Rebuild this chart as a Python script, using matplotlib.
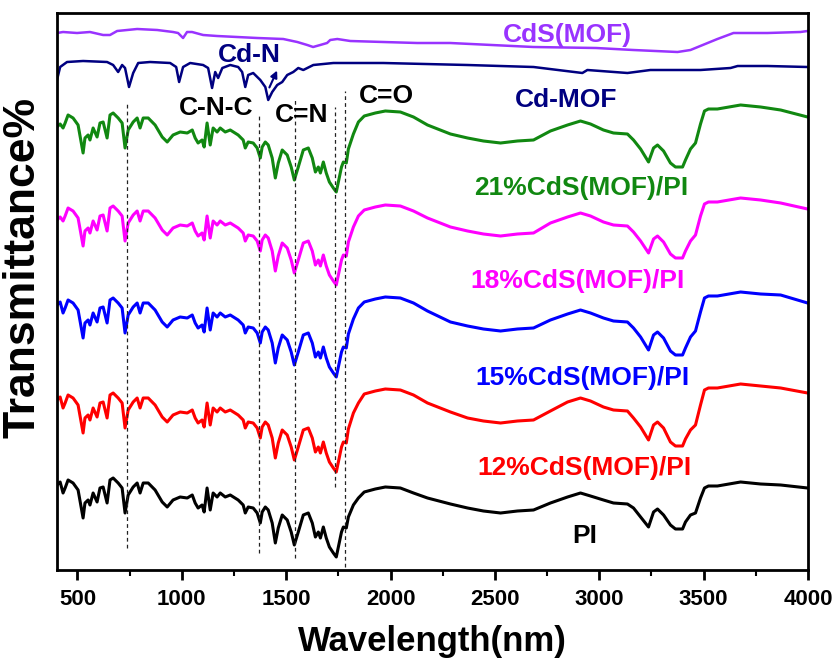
import matplotlib
matplotlib.use('Agg')
import matplotlib.pyplot as plt
from matplotlib import font_manager
from matplotlib.ticker import MultipleLocator

plt.rcParams['font.family'] = 'Liberation Sans'
plt.rcParams['font.weight'] = 'bold'

# Wavenumber grid shared by the PI based films
wn = [402, 417, 431, 441, 455, 479, 503, 527, 536, 551,
      560, 575, 594, 608, 623, 642, 656, 671, 695, 714,
      728, 743, 767, 786, 800, 815, 839, 872, 906, 930,
      958, 992, 1026, 1050, 1064, 1078, 1097, 1107, 1121, 1136,
      1150, 1169, 1184, 1208, 1232, 1270, 1294, 1304, 1318, 1342,
      1361, 1376, 1385, 1400, 1414, 1433, 1448, 1462, 1481, 1505,
      1524, 1539, 1558, 1582, 1606, 1625, 1640, 1654, 1664, 1678,
      1692, 1707, 1726, 1740, 1750, 1765, 1774, 1788, 1798, 1822,
      1846, 1874, 1927, 1975, 2047, 2110, 2177, 2287, 2369, 2445,
      2527, 2608, 2685, 2766, 2848, 2910, 2958, 3020, 3068, 3135,
      3164, 3198, 3236, 3260, 3279, 3308, 3341, 3365, 3399, 3413,
      3437, 3461, 3485, 3504, 3523, 3566, 3677, 3773, 3869, 3998]

# Transmittance (a.u., stacked as in the figure)
t_pi = [85, 88, 77, 82, 90, 87, 80, 52, 67, 70,
        65, 77, 68, 82, 83, 67, 90, 92, 87, 82,
        57, 75, 83, 87, 77, 87, 87, 80, 68, 63,
        70, 73, 72, 75, 67, 62, 65, 58, 82, 60,
        77, 73, 77, 73, 75, 70, 65, 57, 63, 62,
        57, 47, 58, 63, 60, 47, 27, 42, 55, 50,
        38, 25, 38, 55, 57, 47, 33, 38, 32, 43,
        32, 23, 17, 13, 23, 38, 43, 42, 53, 65,
        72, 78, 81, 83, 82, 77, 72, 66, 62, 59,
        57, 59, 60, 67, 73, 77, 74, 70, 67, 66,
        62, 53, 43, 58, 61, 55, 45, 41, 41, 48,
        55, 57, 72, 82, 84, 84, 88, 86, 85, 82]

t_12 = [170, 173, 162, 167, 175, 172, 165, 137, 152, 155,
        150, 162, 153, 167, 168, 152, 175, 177, 172, 167,
        142, 160, 168, 172, 162, 172, 172, 165, 153, 148,
        155, 158, 157, 160, 152, 147, 150, 143, 167, 145,
        162, 158, 162, 158, 160, 155, 150, 142, 148, 147,
        142, 132, 143, 148, 145, 132, 112, 127, 140, 135,
        123, 110, 123, 140, 142, 132, 118, 123, 117, 128,
        117, 108, 102, 98, 108, 123, 128, 127, 141, 157,
        167, 176, 179, 181, 180, 175, 167, 158, 152, 149,
        147, 149, 150, 159, 168, 172, 169, 163, 160, 159,
        152, 143, 130, 145, 148, 142, 128, 124, 124, 131,
        140, 145, 165, 180, 182, 182, 186, 184, 182, 177]

t_15 = [265, 268, 257, 262, 270, 267, 260, 232, 247, 250,
        245, 257, 248, 262, 263, 247, 270, 272, 267, 262,
        237, 255, 263, 267, 257, 267, 267, 260, 248, 243,
        250, 253, 252, 255, 247, 242, 245, 238, 262, 240,
        257, 253, 257, 253, 255, 250, 245, 237, 243, 242,
        237, 227, 238, 243, 240, 227, 207, 222, 235, 230,
        218, 205, 218, 235, 237, 227, 213, 218, 212, 223,
        212, 203, 197, 193, 203, 218, 223, 222, 236, 251,
        262, 268, 271, 273, 272, 267, 259, 248, 244, 241,
        239, 241, 242, 250, 256, 260, 257, 252, 249, 248,
        242, 233, 220, 235, 238, 232, 219, 215, 215, 222,
        233, 239, 258, 272, 274, 274, 278, 276, 275, 267]

t_18 = [350, 353, 349, 354, 362, 359, 352, 324, 339, 342,
        337, 349, 340, 354, 355, 339, 362, 364, 359, 354,
        329, 347, 355, 359, 349, 359, 359, 352, 340, 335,
        342, 345, 344, 347, 339, 334, 337, 330, 354, 332,
        349, 345, 349, 345, 347, 342, 337, 329, 335, 334,
        329, 319, 330, 335, 332, 319, 299, 314, 327, 322,
        310, 297, 310, 327, 329, 319, 305, 310, 304, 315,
        304, 295, 289, 285, 295, 310, 315, 314, 328, 343,
        354, 360, 363, 365, 364, 359, 352, 343, 339, 336,
        334, 336, 337, 347, 353, 357, 354, 348, 345, 344,
        338, 329, 317, 331, 334, 328, 316, 312, 312, 319,
        329, 335, 354, 366, 368, 368, 372, 370, 367, 361]

t_21 = [443, 446, 442, 447, 455, 452, 445, 417, 432, 435,
        430, 442, 433, 447, 448, 432, 455, 457, 452, 447,
        422, 440, 448, 452, 442, 452, 452, 445, 433, 428,
        435, 438, 437, 440, 432, 427, 430, 423, 447, 425,
        442, 438, 442, 438, 440, 435, 430, 422, 428, 427,
        422, 412, 423, 428, 425, 412, 392, 407, 420, 415,
        403, 390, 403, 420, 422, 412, 398, 403, 397, 408,
        397, 388, 382, 378, 388, 403, 408, 407, 421, 436,
        448, 454, 457, 459, 458, 453, 445, 436, 432, 429,
        427, 429, 430, 439, 445, 449, 446, 440, 437, 436,
        430, 421, 408, 422, 425, 419, 407, 403, 403, 410,
        421, 427, 446, 459, 461, 461, 465, 463, 460, 453]

# Cd-MOF
mof_wn = [402, 417, 450, 527, 642, 671, 695, 714, 728, 747,
          767, 791, 848, 944, 973, 987, 1006, 1040, 1102, 1126,
          1145, 1160, 1174, 1194, 1232, 1270, 1289, 1304, 1318, 1342,
          1376, 1400, 1414, 1433, 1457, 1481, 1505, 1534, 1558, 1582,
          1630, 1726, 1965, 2368, 2685, 2919, 2943, 3135, 3245, 3485,
          3629, 3663, 3806, 3998]
t_mof = [490, 503, 508, 509, 508, 505, 498, 505, 502, 483,
         497, 507, 508, 507, 503, 488, 503, 507, 505, 502,
         482, 498, 492, 502, 505, 503, 498, 483, 495, 497,
         490, 483, 470, 478, 485, 488, 495, 498, 502, 500,
         505, 507, 507, 505, 503, 497, 500, 497, 500, 500,
         502, 504, 504, 503]

# CdS(MOF)
cds_wn = [402, 431, 498, 560, 623, 656, 690, 786, 882, 958,
          982, 1006, 1025, 1049, 1102, 1169, 1265, 1361, 1486, 1553,
          1601, 1629, 1663, 1696, 1711, 1745, 1807, 1965, 2128, 2286,
          2684, 2985, 3163, 3375, 3437, 3566, 3643, 3806, 3964, 3998]
t_cds = [537, 538, 537, 538, 535, 535, 539, 541, 540, 538,
         537, 532, 538, 538, 535, 534, 533, 532, 531, 528,
         525, 523, 525, 527, 530, 531, 529, 528, 527, 527,
         523, 522, 520, 518, 520, 531, 537, 537, 538, 539]

# Band markers (position, low end, high end)
band_x = [736, 1372, 1540, 1735, 1784]
band_lo = [22, 17, 12, 83, 3]
band_hi = [467, 457, 471, 463, 479]

# Curve labels: text, x, y, colour
labels = [('CdS(MOF)', 2847, 528, '#9933FF'),
          ('Cd-MOF', 2841, 463, '#000080'),
          ('21%CdS(MOF)/PI', 2914, 375, '#118811'),
          ('18%CdS(MOF)/PI', 2895, 282, '#FF00FF'),
          ('15%CdS(MOF)/PI', 2919, 185, '#0000FF'),
          ('12%CdS(MOF)/PI', 2929, 95, '#FF0000'),
          ('PI', 2929, 27, 'black'),
          ('C-N-C', 1163, 455, 'black'),
          ('C=N', 1575, 448, 'black'),
          ('C=O', 1978, 467, 'black'),
          ('Cd-N', 1323, 508, '#000080')]

fig = plt.figure(figsize=(8.37, 6.66), dpi=100)
ax = fig.add_axes([57 / 837, 96 / 666, 751 / 837, 557 / 666])

ax.plot(wn, t_pi, color='black', lw=2.2)
ax.plot(wn, t_12, color='#FF0000', lw=2.2)
ax.plot(wn, t_15, color='#0000FF', lw=2.2)
ax.plot(wn, t_18, color='#FF00FF', lw=2.2)
ax.plot(wn, t_21, color='#118811', lw=2.2)
ax.plot(mof_wn, t_mof, color='#000080', lw=1.8)
ax.plot(cds_wn, t_cds, color='#9933FF', lw=1.8)

for x, lo, hi in zip(band_x, band_lo, band_hi):
    ax.plot([x, x], [lo, hi], color='#222222', lw=0.9, ls=(0, (3, 2.5)))

for text, x, y, c in labels:
    ax.text(x, y, text, color=c, fontsize=19, fontweight='bold',
            ha='center', va='baseline')

ax.annotate('', xy=(1462, 502), xytext=(1414, 480),
            arrowprops=dict(arrowstyle='-|>', color='#000080', lw=1.5,
                            mutation_scale=10))

ax.set_xlim(402, 4000)
ax.set_ylim(0, 557)
ax.set_yticks([])
ax.xaxis.set_major_locator(MultipleLocator(500))
ax.xaxis.set_minor_locator(MultipleLocator(250))
ax.tick_params(axis='x', which='major', direction='out', length=7, width=2, pad=7)
ax.tick_params(axis='x', which='minor', direction='out', length=4, width=1.5)
for s in ax.spines.values():
    s.set_linewidth(2)

# narrow face for the tick numbers when available
names = {f.name for f in font_manager.fontManager.ttflist}
if 'Liberation Sans Narrow' in names:
    tick_font = dict(family='Liberation Sans Narrow', size=19, weight='bold')
else:
    tick_font = dict(family='Liberation Sans', size=16, weight='bold')
for lab in ax.get_xticklabels():
    lab.set_fontproperties(font_manager.FontProperties(**tick_font))

fig.text(432 / 837, 1 - 641 / 666, 'Wavelength(nm)', fontsize=25,
         fontweight='bold', ha='center', va='center')
fig.text(23 / 837, 1 - 268 / 666, 'Transmittance%', fontsize=32,
         fontweight='bold', ha='center', va='center', rotation=90)

fig.savefig('out.png', dpi=100)
